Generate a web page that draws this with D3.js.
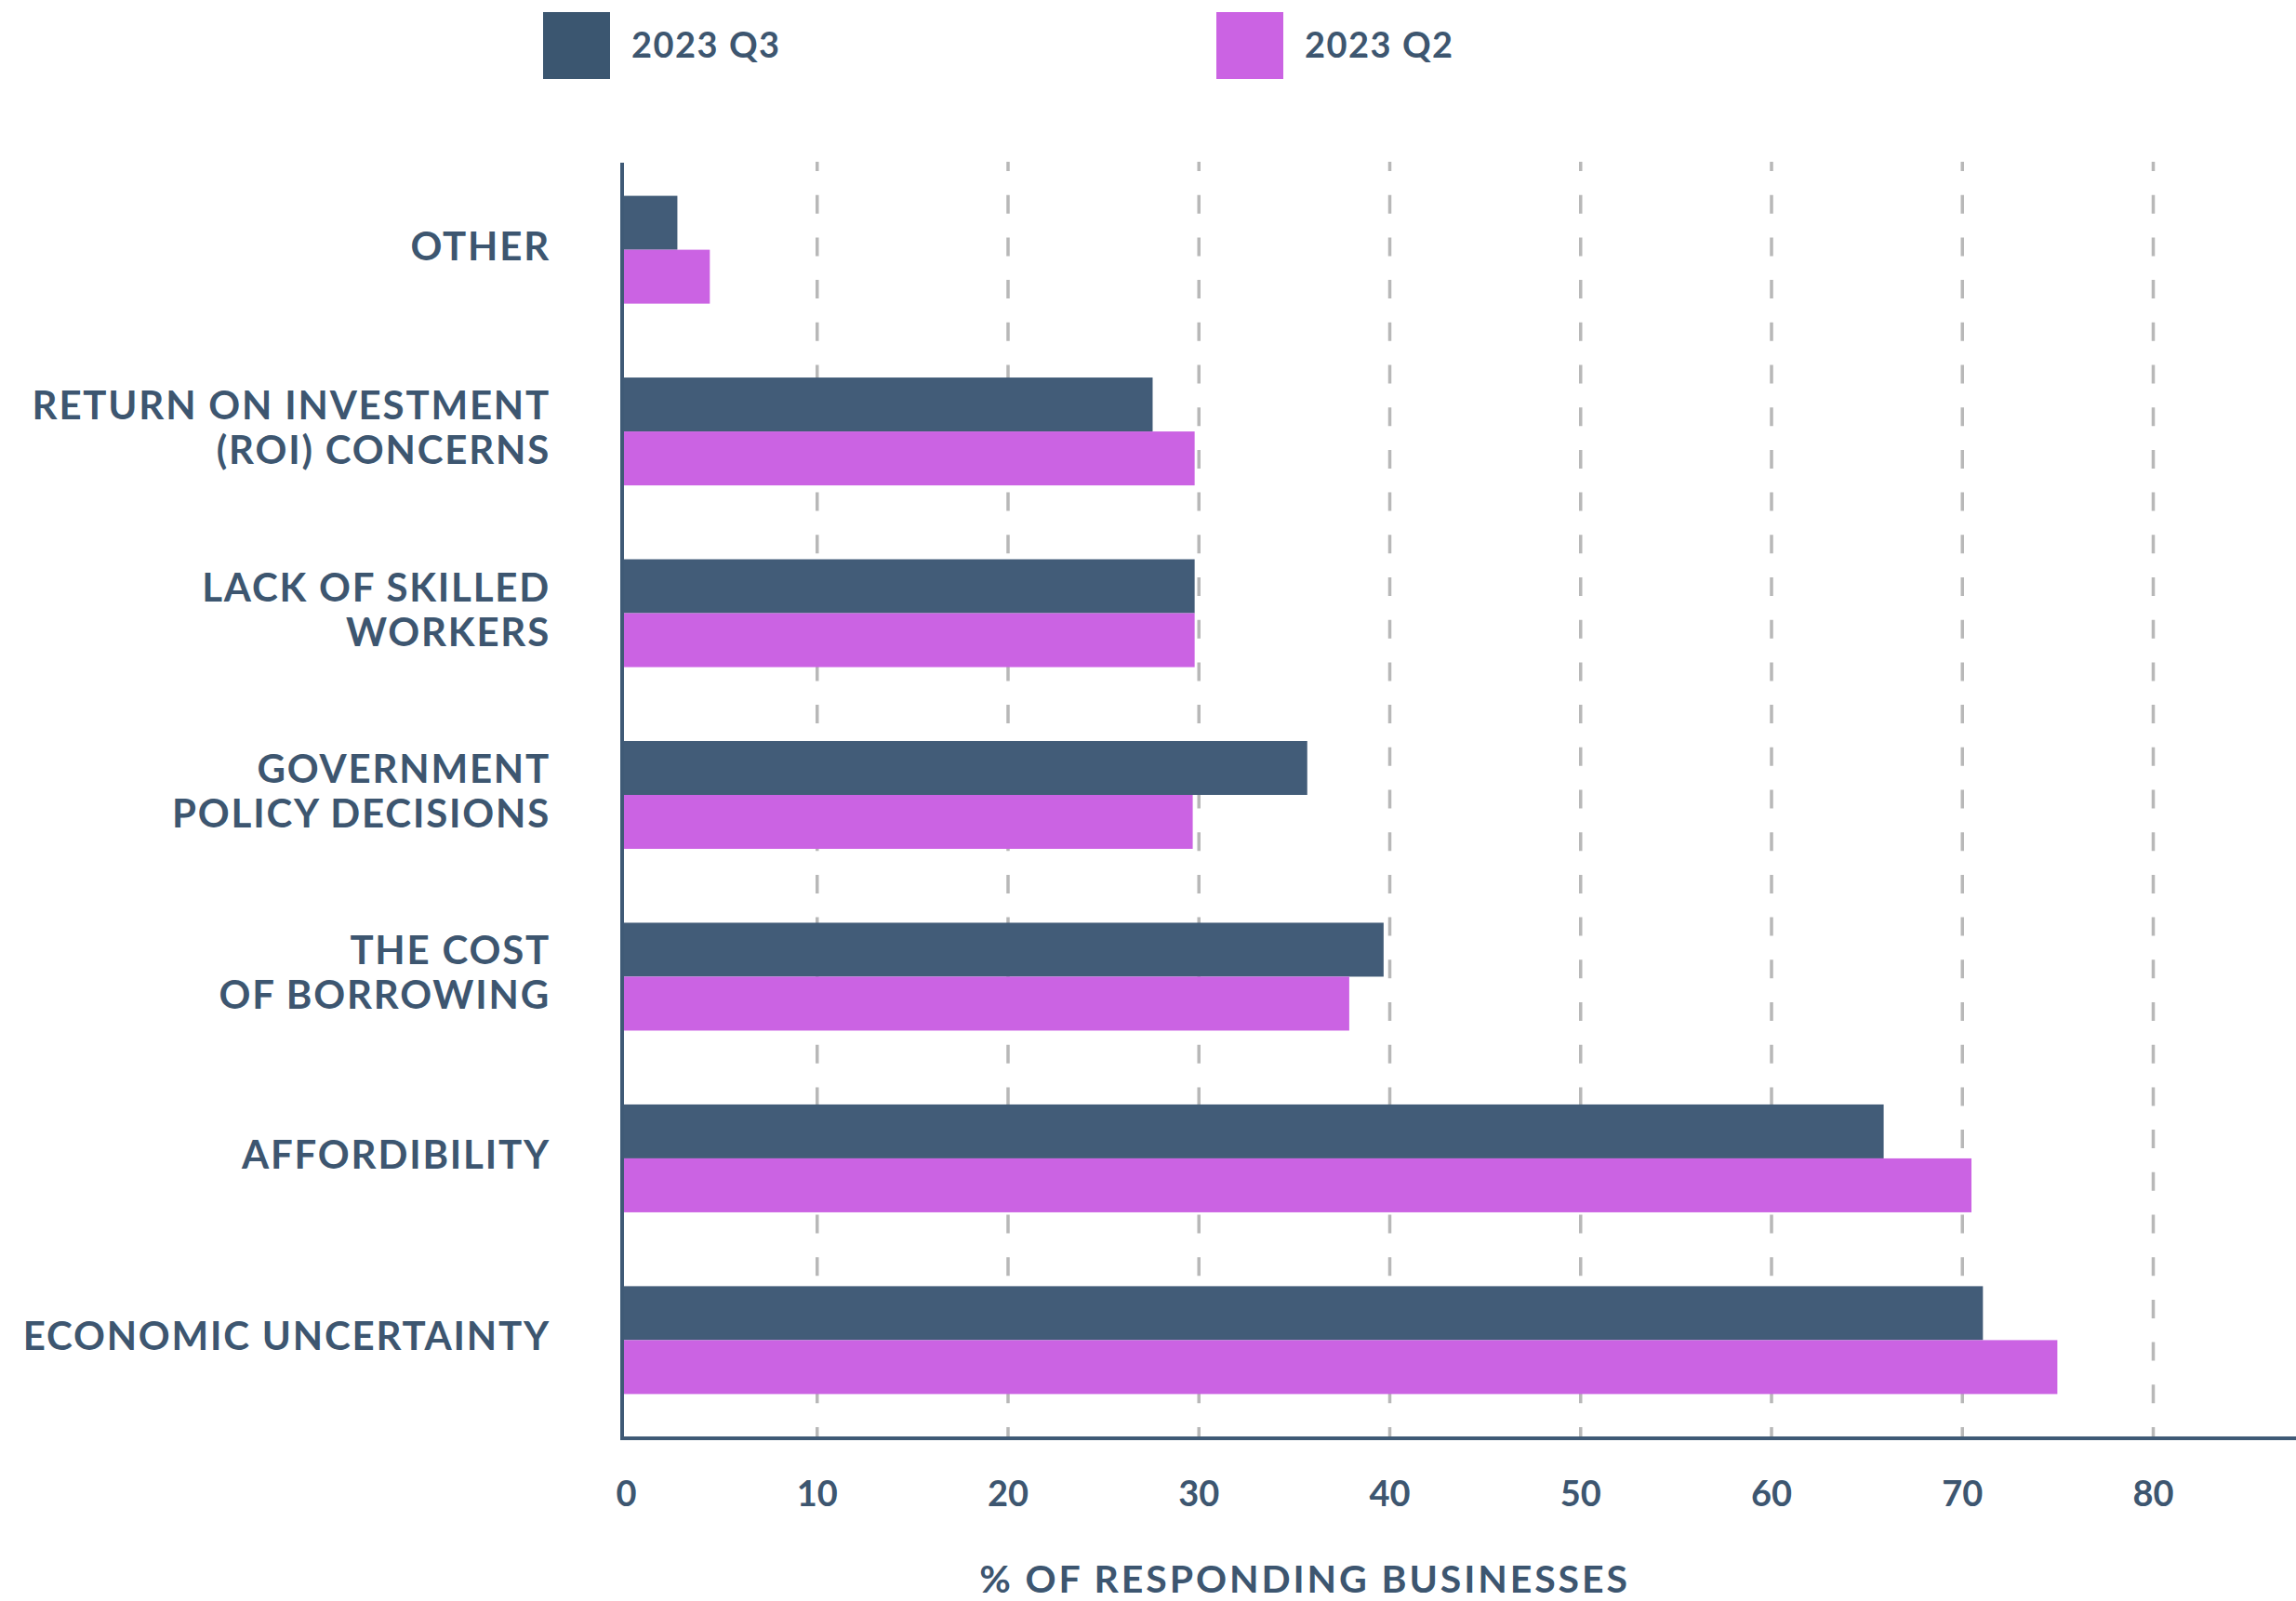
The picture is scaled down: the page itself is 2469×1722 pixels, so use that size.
<!DOCTYPE html>
<html>
<head>
<meta charset="utf-8">
<script src="https://cdn.jsdelivr.net/npm/d3@7"></script>
<style>
  html, body { margin: 0; padding: 0; background: #ffffff; }
  svg { display: block; }
  text { font-family: "Lato", "DejaVu Sans", sans-serif; font-weight: 700; fill: #3d5670; }
</style>
</head>
<body>
<svg id="chart" width="2469" height="1722"></svg>
<script>
// ---- data ----
const categories = [
  "OTHER",
  "RETURN ON INVESTMENT\n(ROI) CONCERNS",
  "LACK OF SKILLED\nWORKERS",
  "GOVERNMENT\nPOLICY DECISIONS",
  "THE COST\nOF BORROWING",
  "AFFORDIBILITY",
  "ECONOMIC UNCERTAINTY"
];
const seriesNames = ["2023 Q3", "2023 Q2"];
const q3Values = [2.7, 27.6, 29.8, 35.7, 39.7, 65.9, 71.1];
const q2Values = [4.4, 29.8, 29.8, 29.7, 37.9, 70.5, 75.0];
const tickValues = [0, 10, 20, 30, 40, 50, 60, 70, 80];
const xTitle = "% OF RESPONDING BUSINESSES";

// ---- styles ----
const colQ3 = "#425c78";
const colQ2 = "#cb63e3";
const swatchQ3 = "#3b5670";
const axisCol = "#3f5a76";
const gridCol = "#b8b8b8";

const svg = d3.select("#chart");

const x = d3.scaleLinear().domain([0, 80]).range([673, 2315]);
const y = d3.scaleBand().domain(categories).range([210.6, 1499.4]).paddingInner(0.4065).paddingOuter(0);
const ySub = d3.scaleBand().domain(seriesNames).range([0, y.bandwidth()]).padding(0);
const color = d3.scaleOrdinal().domain(seriesNames).range([colQ3, colQ2]);

const axisY = 1547;
const axisLeft = 669;
const gridTop = 174;

// dashed gridlines
const gridLen = axisY - 2 - gridTop;
const grid = svg.append("g").attr("transform", `translate(0,${axisY - 2})`)
  .call(d3.axisBottom(x).tickValues(tickValues.filter(d => d > 0)).tickSize(-gridLen).tickFormat(""));
grid.select(".domain").remove();
grid.selectAll(".tick line")
  .attr("y1", -gridLen).attr("y2", 0)
  .attr("stroke", gridCol)
  .attr("stroke-width", 3.5)
  .attr("stroke-dasharray", "20 25.7")
  .attr("stroke-dashoffset", 10);

// bars
const rows = categories.map((c, i) => ({ cat: c, vals: [ { s: seriesNames[0], v: q3Values[i] }, { s: seriesNames[1], v: q2Values[i] } ] }));
const gRows = svg.append("g").selectAll("g").data(rows).join("g")
  .attr("transform", d => `translate(0,${y(d.cat)})`);
gRows.selectAll("rect").data(d => d.vals).join("rect")
  .attr("x", axisLeft + 2)
  .attr("y", d => ySub(d.s))
  .attr("width", d => x(d.v) - (axisLeft + 2))
  .attr("height", ySub.bandwidth())
  .attr("fill", d => color(d.s));

// axis lines
svg.append("line").attr("x1", axisLeft).attr("x2", axisLeft).attr("y1", 175).attr("y2", axisY + 2)
  .attr("stroke", axisCol).attr("stroke-width", 4);
svg.append("line").attr("x1", axisLeft - 2).attr("x2", 2469).attr("y1", axisY).attr("y2", axisY)
  .attr("stroke", axisCol).attr("stroke-width", 4);

// tick labels
const xAxis = svg.append("g").attr("transform", `translate(0,${axisY})`)
  .call(d3.axisBottom(x).tickValues(tickValues).tickSize(0).tickFormat(d3.format("d")));
xAxis.select(".domain").remove();
xAxis.selectAll(".tick text")
  .attr("y", 73).attr("dy", 0)
  .style("font-size", "38px").style("font-family", "Lato").style("font-weight", 700)
  .attr("fill", "#3d5670");

// x title
svg.append("text").attr("x", 1403).attr("y", 1713).attr("text-anchor", "middle")
  .style("font-size", "41px").style("letter-spacing", "2.9px").text(xTitle);

// category labels
const labelX = 592;
const lineH = 48;
svg.append("g").selectAll("text").data(categories).join("text")
  .attr("text-anchor", "end")
  .style("font-size", "42px")
  .style("letter-spacing", "1.8px")
  .each(function(d) {
    const lines = d.split("\n");
    const cy = y(d) + y.bandwidth() / 2 - 4;
    const first = cy - (lines.length - 1) * lineH / 2 + 15;
    d3.select(this).selectAll("tspan").data(lines).join("tspan")
      .attr("x", labelX)
      .attr("y", (l, i) => first + i * lineH)
      .text(l => l);
  });

// legend
const legendX = [584, 1308];
const legendSwatch = [swatchQ3, colQ2];
const lg = svg.append("g").selectAll("g").data(seriesNames).join("g")
  .attr("transform", (d, i) => `translate(${legendX[i]},13)`);
lg.append("rect").attr("width", 72).attr("height", 72).attr("fill", (d, i) => legendSwatch[i]);
lg.append("text").attr("x", 95).attr("y", 49).style("font-size", "38px").style("letter-spacing", "1.5px").text(d => d);
</script>
</body>
</html>
